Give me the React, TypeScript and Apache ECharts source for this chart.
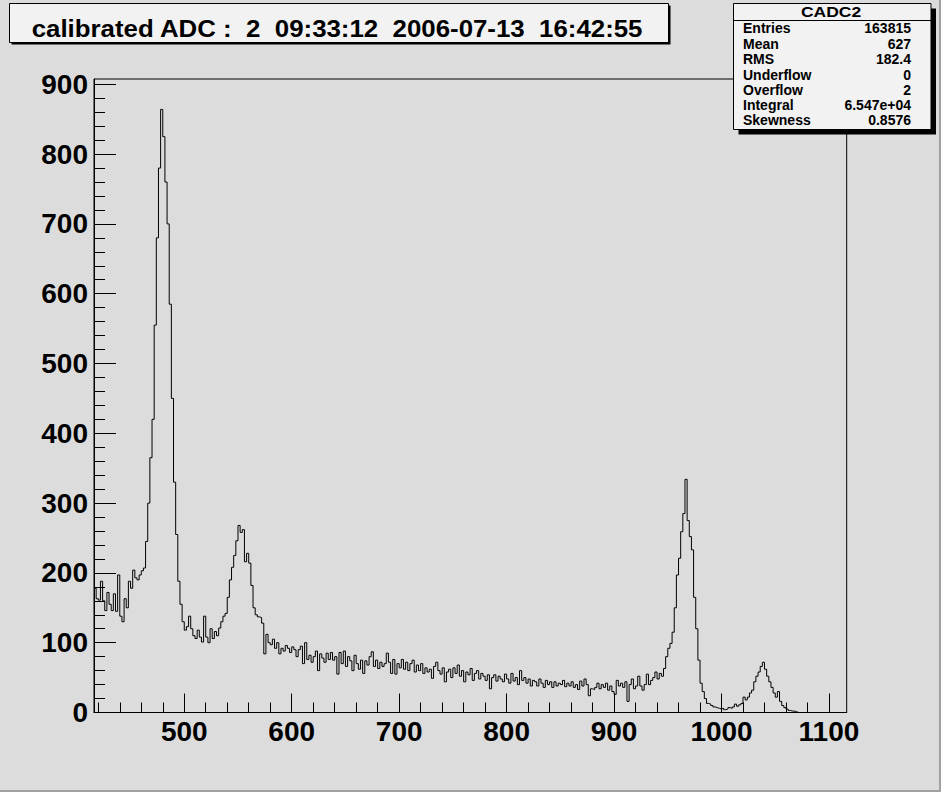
import React, { useEffect, useRef } from "react";
import * as echarts from "echarts";

// ---- texts ----
const TITLE = "calibrated ADC :  2  09:33:12  2006-07-13  16:42:55";
const STATS_NAME = "CADC2";
const statLabels = ["Entries", "Mean", "RMS", "Underflow", "Overflow", "Integral", "Skewness"];
const statValues = ["163815", "627", "182.4", "0", "2", "6.547e+04", "0.8576"];

// ---- histogram binning ----
const BIN_START = 416;
const BIN_WIDTH = 2;
const X_MIN = 416;
const X_MAX = 1116.5;
const Y_MAX = 907.6;

// bin contents, 416 .. 498
const counts416 = [178, 163, 161, 188, 160, 146, 172, 155, 146, 170, 145, 197, 138, 130, 163, 150, 188, 178, 204, 193, 190, 197, 203, 207,
  245, 300, 365, 420, 555, 680, 780, 864, 825, 760, 700, 585, 450, 330, 255, 188, 155, 130];
// 500 .. 598
const counts500 = [118, 123, 138, 120, 110, 106, 118, 108, 101, 138, 108, 100, 120, 106, 116, 110, 121, 130, 138, 142,
  165, 190, 208, 225, 246, 268, 258, 262, 216, 228, 214, 182, 150, 140, 137, 136, 128, 84, 112, 100,
  97, 105, 92, 100, 84, 92, 88, 96, 92, 86];
// 600 .. 698
const counts600 = [94, 90, 80, 90, 95, 70, 100, 76, 82, 72, 80, 88, 60, 84, 78, 72, 85, 76, 86, 75,
  80, 55, 86, 70, 88, 66, 80, 74, 60, 82, 70, 62, 75, 56, 74, 68, 80, 87, 66, 75,
  63, 72, 66, 70, 85, 72, 56, 76, 55, 70];
// 700 .. 798
const counts700 = [64, 76, 62, 72, 60, 70, 75, 58, 68, 60, 70, 56, 64, 58, 62, 49, 66, 72, 60, 55,
  64, 44, 58, 62, 50, 64, 56, 68, 52, 60, 44, 58, 54, 63, 46, 56, 60, 48, 56, 52,
  46, 54, 34, 50, 54, 45, 52, 48, 44, 55];
// 800 .. 898
const counts800 = [48, 42, 56, 45, 50, 40, 60, 46, 50, 42, 48, 38, 46, 44, 38, 48, 42, 36, 46, 40,
  44, 36, 44, 38, 42, 40, 46, 37, 42, 38, 44, 36, 40, 33, 45, 38, 48, 40, 24, 34,
  33, 36, 42, 34, 40, 36, 42, 32, 38, 30];
// 900 .. 998
const counts900 = [26, 46, 38, 42, 36, 44, 16, 40, 48, 34, 38, 52, 38, 32, 40, 55, 40, 46, 50, 58,
  48, 56, 52, 63, 80, 92, 99, 115, 150, 197, 221, 259, 285, 334, 275, 252, 233, 165, 120, 75,
  42, 30, 20, 13, 12, 10, 8, 7, 6, 5];
// 1000 .. 1114
const counts1000 = [6, 4, 5, 7, 6, 8, 12, 9, 11, 13, 22, 18, 22, 28, 32, 44, 52, 58, 66, 72,
  62, 52, 44, 36, 28, 22, 30, 16, 10, 7, 5, 3, 2, 2, 1, 0,
  0, 0, 0, 0, 0, 0, 0, 0, 0, 0, 0, 0, 0, 0, 0, 0, 0, 0, 0, 0, 0, 0];

// ---- axis ticks ----
const xMajorTicks = [500, 600, 700, 800, 900, 1000, 1100];
const yMajorTicks = [0, 100, 200, 300, 400, 500, 600, 700, 800, 900];
const MINOR_STEP = 20;

const FONT = '"Liberation Sans", Arial, Helvetica, sans-serif';

export default function App() {
  const ref = useRef<HTMLDivElement>(null);

  useEffect(() => {
    if (!ref.current) return;
    const chart = echarts.init(ref.current, null, { renderer: "svg" });

    const counts = [...counts416, ...counts500, ...counts600, ...counts700, ...counts800, ...counts900, ...counts1000];
    const points: number[][] = counts.map((c, i) => [BIN_START + i * BIN_WIDTH, c]);
    points.push([BIN_START + counts.length * BIN_WIDTH, counts[counts.length - 1]]);

    const xMinorTicks: number[] = [];
    for (let v = 420; v <= 1100; v += MINOR_STEP) xMinorTicks.push(v);
    const yMinorTicks: number[] = [];
    for (let v = 0; v <= 900; v += MINOR_STEP) yMinorTicks.push(v);

    const labelStyle = {
      fontFamily: FONT,
      fontWeight: "bold" as const,
      fontSize: 28,
      color: "#000",
      formatter: (v: number) => String(v),
    };

    const statsLeft = 733.5;
    const statsTop = 3.5;
    const statsW = 197.5;
    const statsH = 126;
    const rowY = [28, 43.5, 59, 74.5, 89.5, 104.5, 119.5];
    const statFont = `bold 14px ${FONT}`;

    const statTexts: any[] = [];
    statLabels.forEach((lab, i) => {
      statTexts.push({
        type: "text",
        z: 103,
        x: 743,
        y: rowY[i],
        style: { text: lab, font: statFont, lineHeight: 12, fill: "#000", textAlign: "left", textVerticalAlign: "middle", align: "left", verticalAlign: "middle" },
      });
      statTexts.push({
        type: "text",
        z: 103,
        x: 911,
        y: rowY[i],
        style: { text: statValues[i], font: statFont, lineHeight: 12, fill: "#000", textAlign: "right", textVerticalAlign: "middle", align: "right", verticalAlign: "middle" },
      });
    });

    const option: any = {
      animation: false,
      backgroundColor: "#dcdcdc",
      grid: {
        left: 94,
        right: 94.3,
        top: 79,
        bottom: 79.5,
        show: true,
        borderColor: "#000",
        borderWidth: 1,
        backgroundColor: "transparent",
      },
      xAxis: [
        {
          type: "value",
          min: X_MIN,
          max: X_MAX,
          position: "bottom",
          axisLine: { show: true, onZero: false, lineStyle: { color: "#000", width: 1 } },
          axisTick: { show: true, inside: true, length: 19, customValues: xMajorTicks, lineStyle: { color: "#000", width: 1 } },
          axisLabel: { show: true, customValues: xMajorTicks, margin: 5, ...labelStyle },
          splitLine: { show: false },
        },
        {
          type: "value",
          min: X_MIN,
          max: X_MAX,
          position: "bottom",
          offset: 0,
          axisLine: { show: false },
          axisTick: { show: true, inside: true, length: 10, customValues: xMinorTicks, lineStyle: { color: "#000", width: 1 } },
          axisLabel: { show: false },
          splitLine: { show: false },
        },
      ],
      yAxis: [
        {
          type: "value",
          min: 0,
          max: Y_MAX,
          position: "left",
          axisLine: { show: true, onZero: false, lineStyle: { color: "#000", width: 1 } },
          axisTick: { show: true, inside: true, length: 22, customValues: yMajorTicks, lineStyle: { color: "#000", width: 1 } },
          axisLabel: { show: true, customValues: yMajorTicks, margin: 6, padding: [5, 0, 0, 0], ...labelStyle },
          splitLine: { show: false },
        },
        {
          type: "value",
          min: 0,
          max: Y_MAX,
          position: "left",
          offset: 0,
          axisLine: { show: false },
          axisTick: { show: true, inside: true, length: 11, customValues: yMinorTicks, lineStyle: { color: "#000", width: 1 } },
          axisLabel: { show: false },
          splitLine: { show: false },
        },
      ],
      series: [
        {
          type: "line",
          xAxisIndex: 0,
          yAxisIndex: 0,
          data: points,
          step: "end",
          symbol: "none",
          showSymbol: false,
          silent: true,
          clip: true,
          lineStyle: { color: "#000", width: 1 },
        },
      ],
      graphic: {
        elements: [
          // canvas bevel
          { type: "rect", z: 100, shape: { x: 0, y: 790, width: 941, height: 2 }, style: { fill: "#a0a0a0" } },
          { type: "rect", z: 100, shape: { x: 939, y: 0, width: 2, height: 792 }, style: { fill: "#a0a0a0" } },
          // title box
          { type: "rect", z: 100, shape: { x: 11.5, y: 5.5, width: 659, height: 39 }, style: { fill: "#000" } },
          { type: "rect", z: 101, shape: { x: 9.5, y: 3.5, width: 659, height: 39 }, style: { fill: "#f2f2f2", stroke: "#000", lineWidth: 1 } },
          {
            type: "text",
            z: 102,
            x: 31.7,
            y: 28.5,
            scaleX: 1.1,
            style: { text: TITLE, font: `bold 23.5px ${FONT}`, fill: "#000", textAlign: "left", textVerticalAlign: "middle", align: "left", verticalAlign: "middle" },
          },
          // stats box
          { type: "rect", z: 100, shape: { x: statsLeft + 5, y: statsTop + 5, width: statsW, height: statsH }, style: { fill: "#000" } },
          { type: "rect", z: 101, shape: { x: statsLeft, y: statsTop, width: statsW, height: statsH }, style: { fill: "#f2f2f2", stroke: "#000", lineWidth: 1 } },
          { type: "line", z: 102, shape: { x1: statsLeft, y1: 20.5, x2: statsLeft + statsW, y2: 20.5 }, style: { stroke: "#000", lineWidth: 1 } },
          {
            type: "text",
            z: 103,
            x: 831,
            y: 12.5,
            scaleX: 1.25,
            style: { text: STATS_NAME, font: `bold 14px ${FONT}`, lineHeight: 12, fill: "#000", textAlign: "center", textVerticalAlign: "middle", align: "center", verticalAlign: "middle" },
          },
          ...statTexts,
        ],
      },
    };

    chart.setOption(option);
    return () => chart.dispose();
  }, []);

  return (
    <div
      ref={ref}
      style={{ position: "fixed", left: 0, top: 0, width: 941, height: 792 }}
    />
  );
}
